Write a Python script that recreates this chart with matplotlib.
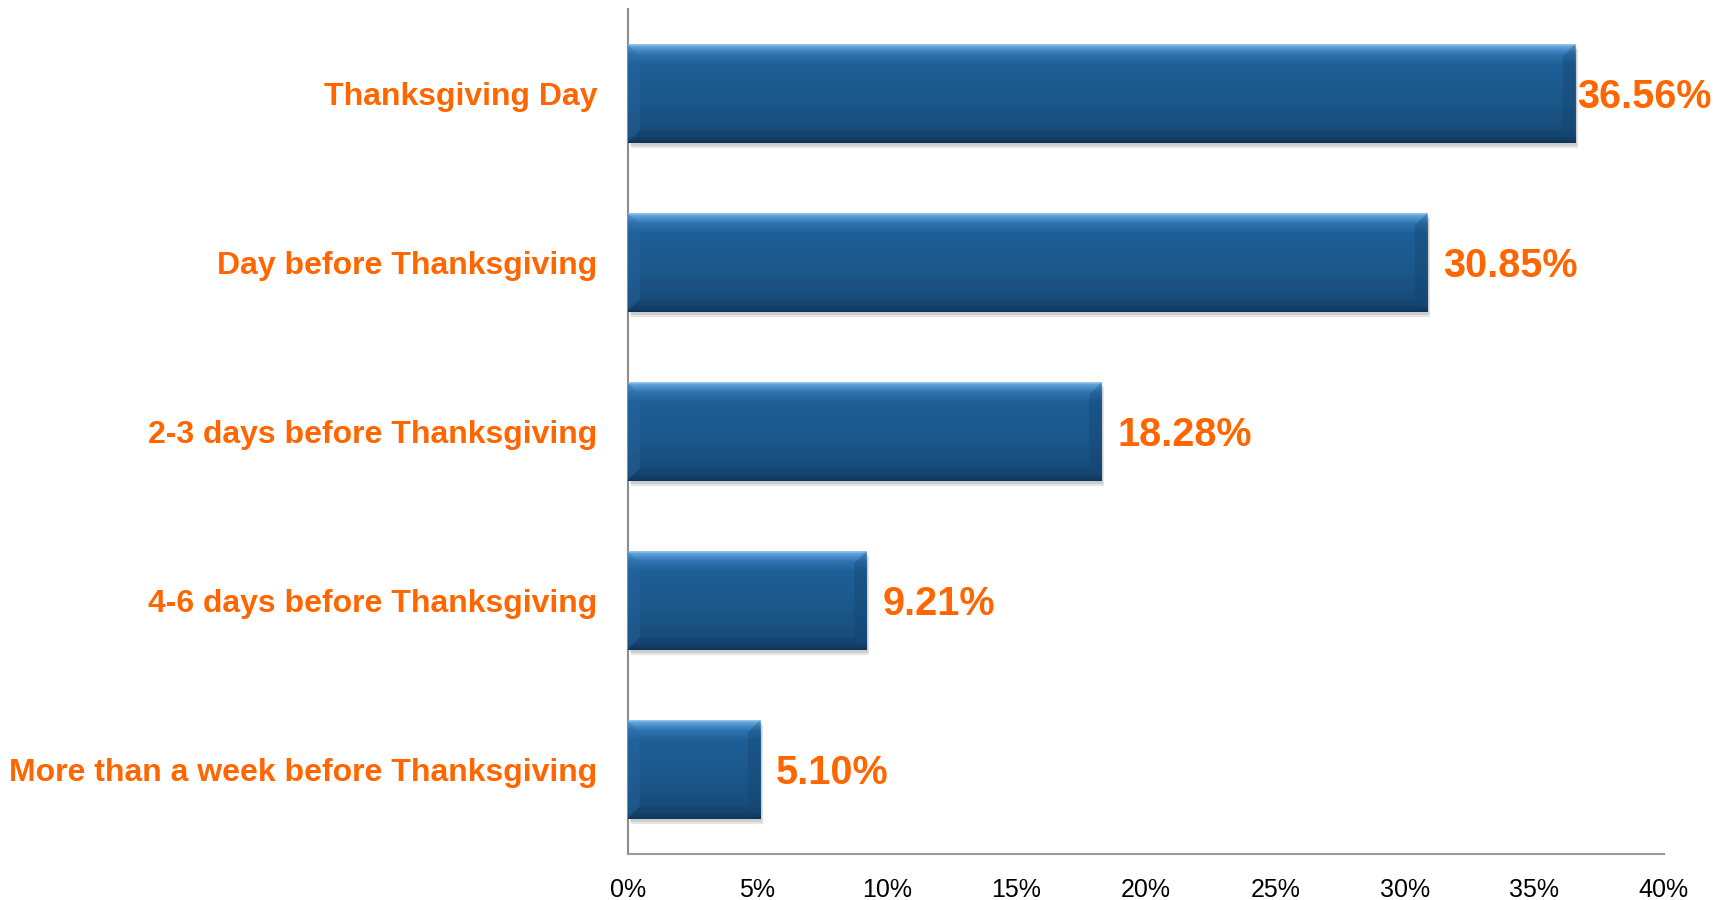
import numpy as np
import matplotlib.pyplot as plt
from matplotlib.colors import LinearSegmentedColormap
from matplotlib.patches import Rectangle, Polygon

categories = ['Thanksgiving Day', 'Day before Thanksgiving', '2-3 days before Thanksgiving',
              '4-6 days before Thanksgiving', 'More than a week before Thanksgiving']
values = [36.56, 30.85, 18.28, 9.21, 5.10]
xticks = [0, 5, 10, 15, 20, 25, 30, 35, 40]
xtick_labels = ['0%', '5%', '10%', '15%', '20%', '25%', '30%', '35%', '40%']

orange = '#ff6600'
plt.rcParams['font.family'] = ['Liberation Sans', 'DejaVu Sans']

fig = plt.figure(figsize=(17.32, 9), dpi=100)
ax = fig.add_axes([0.3624, 0.0511, 0.5983, 0.9389])

y = np.arange(len(categories))[::-1]
h = 0.58
bars = ax.barh(y, values, height=h, color='#1d5a8e', edgecolor='none', zorder=2)

ax.set_xlim(0, 40)
ax.set_ylim(-0.5, 4.5)

# pixel -> data helpers
px_x = 40 / (0.5983 * 1732)
px_y = 5 / (0.9389 * 900)

grad = LinearSegmentedColormap.from_list('bar', [
    (0.0, '#9cc6ea'), (0.02, '#5ea3dc'), (0.10, '#2f74b0'), (0.2, '#1e5f97'),
    (0.6, '#1b578a'), (0.93, '#174a77'), (1.0, '#0f3457')])
g = np.linspace(0, 1, 200).reshape(-1, 1)

for b, yy, v in zip(bars, y, values):
    # drop shadow
    ax.add_patch(Rectangle((3 * px_x, yy - h / 2 - 5 * px_y), v, h, color='#000000',
                           alpha=0.10, lw=0, zorder=1))
    ax.add_patch(Rectangle((2 * px_x, yy - h / 2 - 3 * px_y), v, h, color='#000000',
                           alpha=0.10, lw=0, zorder=1))
    im = ax.imshow(g, cmap=grad, extent=[0, v, yy - h / 2, yy + h / 2], aspect='auto',
                   origin='upper', zorder=3, interpolation='bilinear')
    im.set_clip_path(b)
    # bevel sides
    bw = 12
    x0, x1 = 0, v
    yb, yt = yy - h / 2, yy + h / 2
    ax.add_patch(Polygon([(x0, yb), (x0, yt), (x0 + bw * px_x, yt - bw * px_y),
                          (x0 + bw * px_x, yb + bw * px_y)], closed=True,
                         color='#2a6aa3', alpha=0.35, lw=0, zorder=4))
    ax.add_patch(Polygon([(x1, yb), (x1, yt), (x1 - bw * px_x, yt - bw * px_y),
                          (x1 - bw * px_x, yb + bw * px_y)], closed=True,
                         color='#123f66', alpha=0.3, lw=0, zorder=4))
    ax.add_patch(Polygon([(x0, yb), (x1, yb), (x1 - bw * px_x, yb + bw * px_y),
                          (x0 + bw * px_x, yb + bw * px_y)], closed=True,
                         color='#103a5f', alpha=0.3, lw=0, zorder=4))
    off = 2 if v == max(values) else 16
    ax.annotate(f'{v:.2f}%', xy=(v, yy), xytext=(off * 0.72, -2.5), textcoords='offset points',
                ha='left', va='center', color=orange, fontsize=28.5, fontweight='bold',
                zorder=5, annotation_clip=False)

ax.set_yticks(y)
ax.set_yticklabels(categories, color=orange, fontsize=23, fontweight='bold')
ax.set_xticks(xticks)
ax.set_xticklabels(xtick_labels, fontsize=18, color='black')
ax.tick_params(axis='y', length=0, pad=22)
ax.tick_params(axis='x', length=0, pad=17)

for s in ['top', 'right']:
    ax.spines[s].set_visible(False)
ax.spines['left'].set_color('#8c8c8c')
ax.spines['bottom'].set_color('#9a9a9a')
ax.spines['left'].set_linewidth(1.5)
ax.spines['bottom'].set_linewidth(1.5)

fig.savefig('out.png', dpi=100)
